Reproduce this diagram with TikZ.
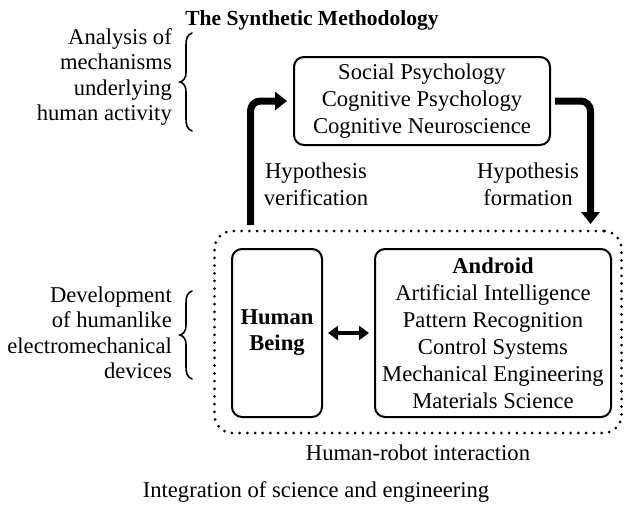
\documentclass[tikz,border=0pt]{standalone}
\usepackage{fontspec}
\setmainfont{Liberation Serif}
\usetikzlibrary{arrows.meta,positioning,calc}

\begin{document}
\begin{tikzpicture}[x=1pt, y=-1pt,
  font=\fontsize{22.6}{27}\selectfont,
  box/.style={draw, line width=2pt, rounded corners=10pt, inner sep=0pt, outer sep=0pt, align=center},
  flow/.style={line width=7pt, rounded corners=10pt, -{Triangle[length=12pt,width=18pt]}},
  side/.style={inner sep=0pt, align=right, anchor=east, font=\fontsize{22.6}{25.5}\selectfont}]
  \useasboundingbox (0,0) rectangle (625,506);

  % title
  \node[anchor=base, inner sep=0pt, font=\fontsize{21.5}{26}\selectfont\bfseries] (title) at (312,25) {The Synthetic Methodology};

  % science
  \node[box, minimum width=256pt, minimum height=88pt] (psych) at (422,101)
    {Social Psychology\\Cognitive Psychology\\Cognitive Neuroscience};

  % engineering: dotted frame with the two boxes
  \node[draw, line width=3pt, dash pattern=on 0pt off 7.7pt, line cap=round, rounded corners=18pt,
    minimum width=407pt, minimum height=202pt, inner sep=0pt, outer sep=0pt] (hri) at (418,332) {};
  \node[box, minimum width=90pt, minimum height=168pt, font=\fontsize{22.6}{26}\selectfont\bfseries] (human) at (277,333)
    {Human\\Being};
  \node[box, minimum width=236pt, minimum height=168pt] (android) at (493,333)
    {\textbf{Android}\\Artificial Intelligence\\Pattern Recognition\\Control Systems\\Mechanical Engineering\\Materials Science};
  \draw[{Triangle[length=10pt,width=14pt]}-{Triangle[length=10pt,width=14pt]}, line width=4pt]
    ([xshift=6pt]human.east) -- ([xshift=-6pt]android.west);
  \node[anchor=base, inner sep=0pt] (hrilabel) at (418,460) {Human-robot interaction};

  % hypothesis loop
  \draw[flow] ([xshift=36pt,yshift=6pt]hri.north west) |- ([xshift=-7pt]psych.west);
  \draw[flow] ([xshift=5pt]psych.east) -| ([xshift=-31pt,yshift=7pt]hri.north east);
  \node[inner sep=0pt, align=center] (verif) at (316,184) {Hypothesis\\verification};
  \node[inner sep=0pt, align=center] (form) at (528,184) {Hypothesis\\formation};

  % side notes with their braces
  \node[side] (analysis) at (172,77) {Analysis of\\mechanisms\\underlying\\human activity};
  \node[side] (develop) at (172,333) {Development\\of humanlike\\electromechanical\\devices};
  \foreach \t/\b in {33/131, 291/379} {
    \pgfmathsetmacro\m{(\t+\b)/2}
    \draw[line width=1.6pt, line cap=round] (192,\t) .. controls (187,\t+2) and (186,\t+6) .. (186,\t+12)
      -- (186,\m-10) .. controls (186,\m-3) and (183,\m-1) .. (180,\m)
      .. controls (183,\m+1) and (186,\m+3) .. (186,\m+10)
      -- (186,\b-12) .. controls (186,\b-6) and (187,\b-2) .. (192,\b);
  }

  \node[anchor=base, inner sep=0pt] (integ) at (316,497) {Integration of science and engineering};
\end{tikzpicture}
\end{document}
